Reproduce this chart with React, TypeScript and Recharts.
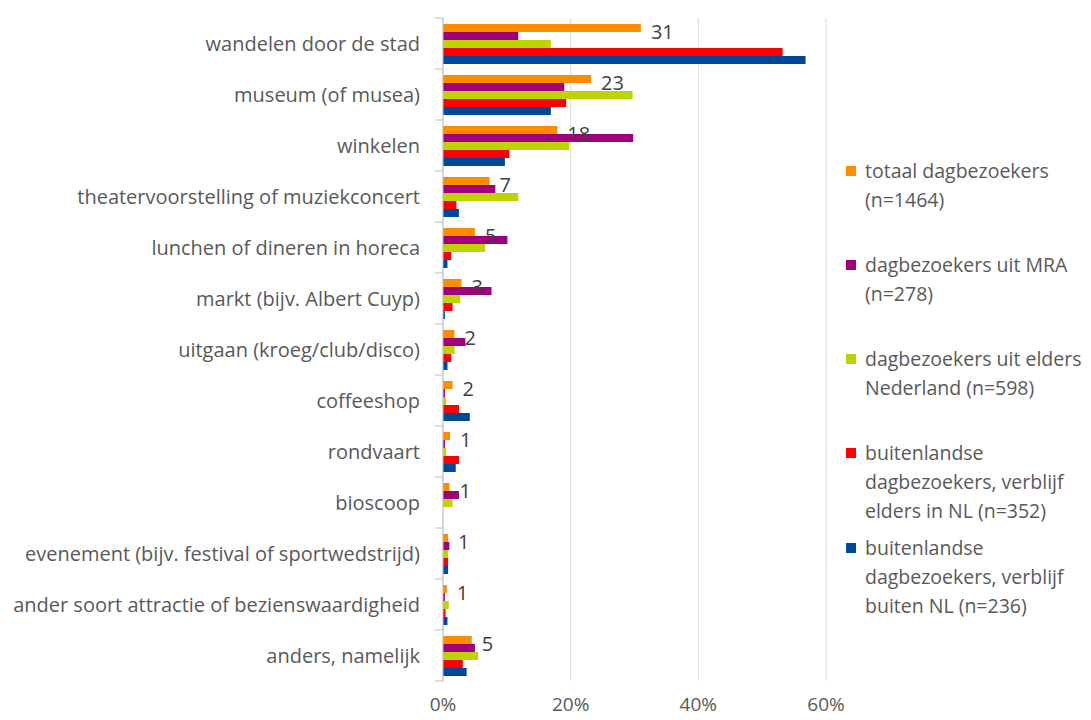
import React from "react";
import {
  BarChart,
  Bar,
  XAxis,
  YAxis,
  CartesianGrid,
  Legend,
  LabelList,
} from "recharts";

// activiteiten (categorieën)
const categories = [
  "wandelen door de stad",
  "museum (of musea)",
  "winkelen",
  "theatervoorstelling of muziekconcert",
  "lunchen of dineren in horeca",
  "markt (bijv. Albert Cuyp)",
  "uitgaan (kroeg/club/disco)",
  "coffeeshop",
  "rondvaart",
  "bioscoop",
  "evenement (bijv. festival of sportwedstrijd)",
  "ander soort attractie of bezienswaardigheid",
  "anders, namelijk",
];

// percentages per groep
const totaal = [31.0, 23.2, 17.9, 7.3, 5.0, 2.9, 1.8, 1.5, 1.1, 1.0, 0.8, 0.6, 4.5];
const mra = [11.8, 19.0, 29.8, 8.2, 10.1, 7.6, 3.5, 0.3, 0.3, 2.5, 1.0, 0.3, 5.0];
const eldersNL = [16.9, 29.7, 19.8, 11.8, 6.6, 2.7, 1.8, 0.5, 0.5, 1.5, 0.8, 0.9, 5.5];
const buitenVerblijfNL = [53.2, 19.3, 10.4, 2.1, 1.3, 1.5, 1.3, 2.5, 2.5, 0, 0.8, 0.4, 3.1];
const buitenVerblijfBuiten = [56.8, 16.9, 9.7, 2.5, 0.7, 0.3, 0.7, 4.2, 2.0, 0, 0.8, 0.7, 3.7];

// labels bij totaal
const totaalLabels = [31, 23, 18, 7, 5, 3, 2, 2, 1, 1, 1, 1, 5];

const xTicks = [0, 20, 40, 60];

const series = [
  { key: "totaal", name: "totaal dagbezoekers (n=1464)", color: "#FF8C00", lines: ["totaal dagbezoekers", "(n=1464)"] },
  { key: "mra", name: "dagbezoekers uit MRA (n=278)", color: "#A0007A", lines: ["dagbezoekers uit MRA", "(n=278)"] },
  { key: "elders", name: "dagbezoekers uit elders Nederland (n=598)", color: "#BFD300", lines: ["dagbezoekers uit elders", "Nederland (n=598)"] },
  { key: "buitenNL", name: "buitenlandse dagbezoekers, verblijf elders in NL (n=352)", color: "#FF0000", lines: ["buitenlandse", "dagbezoekers, verblijf", "elders in NL (n=352)"] },
  { key: "buitenBuiten", name: "buitenlandse dagbezoekers, verblijf buiten NL (n=236)", color: "#00489A", lines: ["buitenlandse", "dagbezoekers, verblijf", "buiten NL (n=236)"] },
];

const data = categories.map((name, i) => ({
  name,
  totaal: totaal[i],
  mra: mra[i],
  elders: eldersNL[i],
  buitenNL: buitenVerblijfNL[i],
  buitenBuiten: buitenVerblijfBuiten[i],
  label: totaalLabels[i],
}));

const FONT = "'Open Sans', Lato, sans-serif";
const AXIS_X = 435;
const PLOT_TOP = 10;
const PLOT_BOTTOM = 673;
const BAND = (PLOT_BOTTOM - PLOT_TOP) / categories.length;

const CategoryTick = (props: any) => {
  const { y, payload, index } = props;
  return (
    <g>
      <text
        x={AXIS_X - 23}
        y={y}
        textAnchor="end"
        dominantBaseline="central"
        fill="#595959"
        fontSize={20}
        fontFamily={FONT}
      >
        {payload.value}
      </text>
      <line x1={AXIS_X - 8} x2={AXIS_X} y1={y - BAND / 2} y2={y - BAND / 2} stroke="#bfbfbf" />
      {index === categories.length - 1 && (
        <line x1={AXIS_X - 8} x2={AXIS_X} y1={y + BAND / 2} y2={y + BAND / 2} stroke="#bfbfbf" />
      )}
    </g>
  );
};

const TotaalLabel = (props: any) => {
  const { x, y, width, height, value } = props;
  return (
    <text
      x={x + width + 10}
      y={y + height + 7}
      fill="#404040"
      fontSize={20}
      fontFamily={FONT}
    >
      {value}
    </text>
  );
};

const LegendBox = () => (
  <div style={{ position: "absolute", left: 838, top: 0, width: 245, height: 700, fontFamily: FONT }}>
    {series.map((s, i) => {
      const firstLine = 170 + i * 94.3 - 8;
      return (
        <div key={s.key} style={{ position: "absolute", left: 0, top: firstLine - 14.5 }}>
          <div
            style={{
              position: "absolute",
              left: 0,
              top: 10,
              width: 10,
              height: 10,
              background: s.color,
            }}
          />
          <div style={{ marginLeft: 19, fontSize: 19.5, lineHeight: "29px", color: "#595959", whiteSpace: "nowrap" }}>
            {s.lines.map((l) => (
              <div key={l}>{l}</div>
            ))}
          </div>
        </div>
      );
    })}
  </div>
);

const App: React.FC = () => {
  return (
    <BarChart
      width={1083}
      height={712}
      data={data}
      layout="vertical"
      margin={{ top: PLOT_TOP, right: 265, left: 0, bottom: 9 }}
      barCategoryGap={6}
      barGap={0}
    >
      <CartesianGrid horizontal={false} stroke="#d9d9d9" />
      <XAxis
        type="number"
        domain={[0, 60]}
        ticks={xTicks}
        tickFormatter={(v) => `${v}%`}
        axisLine={false}
        tickLine={false}
        height={30}
        tickMargin={11}
        tick={{ fill: "#595959", fontSize: 19, fontFamily: FONT }}
      />
      <YAxis
        type="category"
        dataKey="name"
        width={AXIS_X}
        axisLine={{ stroke: "#bfbfbf" }}
        tickLine={false}
        tick={<CategoryTick />}
        interval={0}
      />
      <Legend
        layout="horizontal"
        align="center"
        verticalAlign="middle"
        wrapperStyle={{ position: "absolute", left: 0, top: 0, width: 0, height: 0 }}
        content={() => <LegendBox />}
      />
      {series.map((s) => (
        <Bar key={s.key} dataKey={s.key} name={s.name} fill={s.color} isAnimationActive={false}>
          {s.key === "totaal" && <LabelList dataKey="label" content={<TotaalLabel />} />}
        </Bar>
      ))}
    </BarChart>
  );
};

export default App;
